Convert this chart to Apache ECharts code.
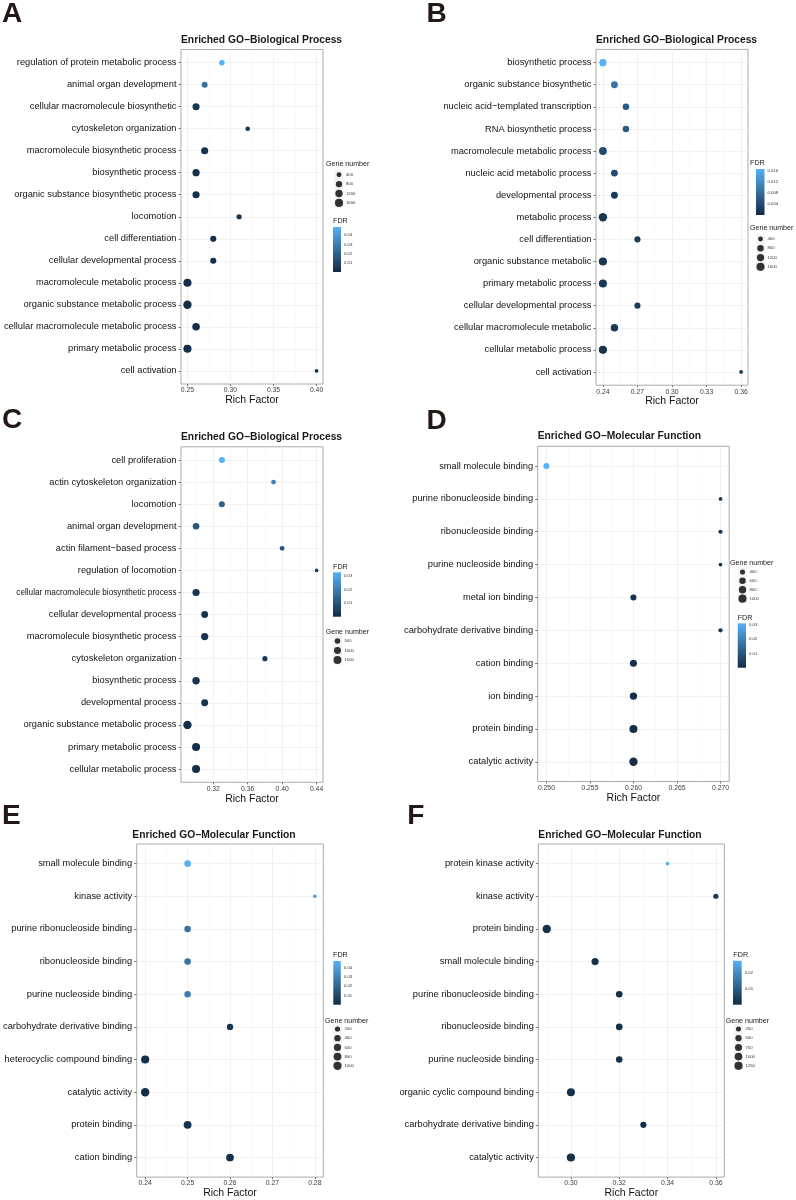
<!DOCTYPE html>
<html>
<head>
<meta charset="utf-8">
<script src="https://cdn.jsdelivr.net/npm/echarts@6/dist/echarts.min.js"></script>
<style>
html, body { margin: 0; padding: 0; background: #fff; }
#chart { width: 796px; height: 1200px; }
</style>
</head>
<body>
<div id="chart"></div>
<script>
// A - GO BP
const termsA = ['regulation of protein metabolic process', 'animal organ development', 'cellular macromolecule biosynthetic',
  'cytoskeleton organization', 'macromolecule biosynthetic process', 'biosynthetic process', 'organic substance biosynthetic process',
  'locomotion', 'cell differentiation', 'cellular developmental process', 'macromolecule metabolic process',
  'organic substance metabolic process', 'cellular macromolecule metabolic process', 'primary metabolic process', 'cell activation'];
const richA = [0.29, 0.27, 0.26, 0.32, 0.27, 0.26, 0.26, 0.31, 0.28, 0.28, 0.25, 0.25, 0.26, 0.25, 0.40];
const genesA = [500, 620, 1100, 350, 1100, 1150, 1130, 450, 710, 700, 1620, 1800, 1340, 1650, 300];
const fdrA = [0.049, 0.025, 0.004, 0.003, 0.003, 0.002, 0.002, 0.003, 0.002, 0.002, 0.001, 0.001, 0.001, 0.001, 0.001];
const xTicksA = [0.25, 0.30, 0.35, 0.40];
const sizeKeysA = [400, 800, 1200, 1600];
const fdrTicksA = [0.01, 0.02, 0.03, 0.04];

// B - GO BP
const termsB = ['biosynthetic process', 'organic substance biosynthetic', 'nucleic acid\u2212templated transcription',
  'RNA biosynthetic process', 'macromolecule metabolic process', 'nucleic acid metabolic process', 'developmental process',
  'metabolic process', 'cell differentiation', 'organic substance metabolic', 'primary metabolic process',
  'cellular developmental process', 'cellular macromolecule metabolic', 'cellular metabolic process', 'cell activation'];
const richB = [0.24, 0.25, 0.26, 0.26, 0.24, 0.25, 0.25, 0.24, 0.27, 0.24, 0.24, 0.27, 0.25, 0.24, 0.36];
const genesB = [1150, 1000, 850, 850, 1450, 1000, 1000, 1800, 700, 1650, 1600, 700, 1250, 1650, 300];
const fdrB = [0.0165, 0.009, 0.006, 0.006, 0.004, 0.004, 0.002, 0.0015, 0.002, 0.0015, 0.0015, 0.002, 0.002, 0.001, 0.001];
const xTicksB = [0.24, 0.27, 0.30, 0.33, 0.36];
const sizeKeysB = [400, 800, 1200, 1600];
const fdrTicksB = [0.004, 0.008, 0.012, 0.016];

// C - GO BP
const termsC = ['cell proliferation', 'actin cytoskeleton organization', 'locomotion', 'animal organ development',
  'actin filament\u2212based process', 'regulation of locomotion', 'cellular macromolecule biosynthetic process',
  'cellular developmental process', 'macromolecule biosynthetic process', 'cytoskeleton organization',
  'biosynthetic process', 'developmental process', 'organic substance metabolic process', 'primary metabolic process',
  'cellular metabolic process'];
const richC = [0.33, 0.39, 0.33, 0.30, 0.40, 0.44, 0.30, 0.31, 0.31, 0.38, 0.30, 0.31, 0.29, 0.30, 0.30];
const genesC = [650, 350, 600, 850, 330, 250, 1100, 950, 1150, 400, 1200, 1000, 1800, 1550, 1600];
const fdrC = [0.0325, 0.022, 0.013, 0.011, 0.010, 0.005, 0.002, 0.002, 0.002, 0.003, 0.002, 0.002, 0.001, 0.001, 0.001];
const xTicksC = [0.32, 0.36, 0.40, 0.44];
const sizeKeysC = [500, 1000, 1500];
const fdrTicksC = [0.01, 0.02, 0.03];

// D - GO MF
const termsD = ['small molecule binding', 'purine ribonucleoside binding', 'ribonucleoside binding', 'purine nucleoside binding',
  'metal ion binding', 'carbohydrate derivative binding', 'cation binding', 'ion binding', 'protein binding', 'catalytic activity'];
const richD = [0.25, 0.27, 0.27, 0.27, 0.26, 0.27, 0.26, 0.26, 0.26, 0.26];
const genesD = [520, 330, 340, 330, 520, 340, 720, 790, 1000, 1100];
const fdrD = [0.031, 0.002, 0.002, 0.002, 0.001, 0.002, 0.001, 0.001, 0.001, 0.001];
const xTicksD = [0.250, 0.255, 0.260, 0.265, 0.270];
const sizeKeysD = [400, 600, 800, 1000];
const fdrTicksD = [0.01, 0.02, 0.03];

// E - GO MF
const termsE = ['small molecule binding', 'kinase activity', 'purine ribonucleoside binding', 'ribonucleoside binding',
  'purine nucleoside binding', 'carbohydrate derivative binding', 'heterocyclic compound binding', 'catalytic activity',
  'protein binding', 'cation binding'];
const richE = [0.25, 0.28, 0.25, 0.25, 0.25, 0.26, 0.24, 0.24, 0.25, 0.26];
const genesE = [500, 100, 450, 450, 430, 400, 950, 1050, 850, 800];
const fdrE = [0.047, 0.042, 0.026, 0.025, 0.028, 0.004, 0.001, 0.001, 0.002, 0.002];
const xTicksE = [0.24, 0.25, 0.26, 0.27, 0.28];
const sizeKeysE = [200, 400, 600, 800, 1000];
const fdrTicksE = [0.01, 0.02, 0.03, 0.04];

// F - GO MF
const termsF = ['protein kinase activity', 'kinase activity', 'protein binding', 'small molecule binding',
  'purine ribonucleoside binding', 'ribonucleoside binding', 'purine nucleoside binding', 'organic cyclic compound binding',
  'carbohydrate derivative binding', 'catalytic activity'];
const richF = [0.34, 0.36, 0.29, 0.31, 0.32, 0.32, 0.32, 0.30, 0.33, 0.30];
const genesF = [150, 280, 1350, 800, 620, 620, 580, 1150, 500, 1250];
const fdrF = [0.028, 0.003, 0.001, 0.001, 0.001, 0.001, 0.001, 0.001, 0.001, 0.001];
const xTicksF = [0.30, 0.32, 0.34, 0.36];
const sizeKeysF = [250, 500, 750, 1000, 1250];
const fdrTicksF = [0.01, 0.02];

const smallLabels = ['cellular macromolecule biosynthetic process'];

const BP = 'Enriched GO\u2212Biological Process';
const MF = 'Enriched GO\u2212Molecular Function';
const LOW = '#132B43', HIGH = '#56B1F7';
const FONT = '"Liberation Sans", Arial, Helvetica, sans-serif';

// layout of each panel (pixel positions)
const panels = [
  { letter: 'A', title: BP, terms: termsA, rich: richA, genes: genesA, fdr: fdrA, xTicks: xTicksA, sizeKeys: sizeKeysA, fdrTicks: fdrTicksA,
    dec: 2, box: [181, 49.5, 142, 334.5], letterPos: [2, 0], titleTop: 35.5,
    gn: { tx: 326, ty: 161, gx: 334.5, gy: 170, step: 9.4 }, fl: { tx: 333, ty: 218, bx: 333, by: 227, bh: 45, bw: 8 } },
  { letter: 'B', title: BP, terms: termsB, rich: richB, genes: genesB, fdr: fdrB, xTicks: xTicksB, sizeKeys: sizeKeysB, fdrTicks: fdrTicksB,
    dec: 2, box: [596, 49.4, 152, 335.8], letterPos: [426.5, 0], titleTop: 35.5,
    gn: { tx: 750, ty: 224.5, gx: 756, gy: 234.3, step: 9.3 }, fl: { tx: 750, ty: 159.5, bx: 756, by: 169, bh: 46, bw: 8.5 } },
  { letter: 'C', title: BP, terms: termsC, rich: richC, genes: genesC, fdr: fdrC, xTicks: xTicksC, sizeKeys: sizeKeysC, fdrTicks: fdrTicksC,
    dec: 2, box: [181, 446.8, 142, 335.5], letterPos: [2, 406.5], titleTop: 432.3,
    gn: { tx: 325.7, ty: 629, gx: 333, gy: 636.3, step: 9.5 }, fl: { tx: 333, ty: 564, bx: 333, by: 572.3, bh: 44.4, bw: 8 } },
  { letter: 'D', title: MF, terms: termsD, rich: richD, genes: genesD, fdr: fdrD, xTicks: xTicksD, sizeKeys: sizeKeysD, fdrTicks: fdrTicksD,
    dec: 3, box: [537.7, 446.3, 191.5, 335.2], letterPos: [426.5, 407.7], titleTop: 431.3,
    gn: { tx: 730, ty: 559.5, gx: 738, gy: 567.5, step: 8.9 }, fl: { tx: 737.7, ty: 614.5, bx: 737.7, by: 623.3, bh: 44.4, bw: 8.3 } },
  { letter: 'E', title: MF, terms: termsE, rich: richE, genes: genesE, fdr: fdrE, xTicks: xTicksE, sizeKeys: sizeKeysE, fdrTicks: fdrTicksE,
    dec: 2, box: [132.3, 844, 191, 335], letterPos: [2, 802.7], titleTop: 829.7,
    gn: { tx: 325, ty: 1017.5, gx: 333, gy: 1024.4, step: 9.2 }, fl: { tx: 333, ty: 951.8, bx: 333.3, by: 961, bh: 43.7, bw: 7.5 } },
  { letter: 'F', title: MF, terms: termsF, rich: richF, genes: genesF, fdr: fdrF, xTicks: xTicksF, sizeKeys: sizeKeysF, fdrTicks: fdrTicksF,
    dec: 2, box: [538.3, 844, 186, 335], letterPos: [407.3, 802.7], titleTop: 829.7,
    gn: { tx: 725.7, ty: 1017.5, gx: 734, gy: 1024.4, step: 9.2 }, fl: { tx: 733.3, ty: 951.8, bx: 733, by: 960.7, bh: 44, bw: 8.7 } }
];

const option = { animation: false, backgroundColor: '#fff', title: [], grid: [], xAxis: [], yAxis: [], series: [], visualMap: [] };
const txt = (size, extra) => Object.assign({ fontFamily: FONT, fontSize: size, color: '#1a1a1a', fontWeight: 'normal' }, extra || {});

panels.forEach(function (p) {
  const n = p.terms.length;
  const lo = Math.min(...p.rich), hi = Math.max(...p.rich);
  const pad = (hi - lo) * 0.05;
  const gmin = Math.min(...p.genes), gmax = Math.max(...p.genes);
  const dot = g => 3.7 + 4.7 * Math.sqrt(Math.max(0, (g - gmin) / (gmax - gmin)));
  const fdrMax = Math.max(...p.fdr);
  const step = p.xTicks[1] - p.xTicks[0];
  const minor = [];
  for (let v = p.xTicks[0] - step / 2; v < hi + pad; v += step) {
    if (v > lo - pad) minor.push(+v.toFixed(6));
  }
  const rows = p.terms.map((t, k) => k + 1);

  // titles
  option.title.push({ text: p.letter, left: p.letterPos[0], top: p.letterPos[1], padding: 0,
    textStyle: txt(28, { fontWeight: 'bold', color: '#231815' }) });
  option.title.push({ text: p.title, left: p.box[0], top: p.titleTop, padding: 0, textStyle: txt(10.3, { fontWeight: 'bold' }) });
  option.title.push({ text: 'Gene number', left: p.gn.tx, top: p.gn.ty, padding: 0, textStyle: txt(7.1) });
  option.title.push({ text: 'FDR', left: p.fl.tx, top: p.fl.ty, padding: 0, textStyle: txt(7.2) });

  // main plot
  let gi = option.grid.length;
  option.grid.push({ left: p.box[0], top: p.box[1], width: p.box[2], height: p.box[3], show: true,
    borderColor: '#ababab', borderWidth: 1, backgroundColor: '#fff' });
  const xi = option.xAxis.length;
  option.xAxis.push({ gridIndex: gi, type: 'value', min: lo - pad, max: hi + pad, position: 'bottom',
    name: 'Rich Factor', nameLocation: 'middle', nameGap: 8.5, nameTextStyle: txt(10.5, { color: '#111' }),
    axisLine: { show: false },
    axisTick: { show: true, customValues: p.xTicks, length: 2, lineStyle: { color: '#555', width: 0.8 } },
    axisLabel: { customValues: p.xTicks, margin: 3, formatter: v => v.toFixed(p.dec), fontFamily: FONT, fontSize: 6.8, color: '#404040' },
    splitLine: { show: true, lineStyle: { color: '#efefef', width: 0.8 } } });
  option.xAxis.push({ gridIndex: gi, type: 'value', min: lo - pad, max: hi + pad, position: 'top',
    axisLine: { show: false }, axisTick: { show: false, customValues: minor }, axisLabel: { show: false, customValues: minor },
    splitLine: { show: true, lineStyle: { color: '#f7f7f7', width: 0.6 } } });
  const yi = option.yAxis.length;
  option.yAxis.push({ gridIndex: gi, type: 'value', inverse: true, min: 0.4, max: n + 0.6,
    axisLine: { show: false },
    axisTick: { show: true, customValues: rows, length: 2.5, lineStyle: { color: '#555', width: 0.8 } },
    axisLabel: { customValues: rows, margin: 4.5, fontFamily: FONT, fontSize: 9.3, color: '#111',
      formatter: v => { const t = p.terms[Math.round(v) - 1] || ''; return smallLabels.indexOf(t) >= 0 && p.letter === 'C' ? '{s|' + t + '}' : t; },
      rich: { s: { fontFamily: FONT, fontSize: 8.2, color: '#111' } } },
    splitLine: { show: true, lineStyle: { color: '#efefef', width: 0.8 } } });
  const si = option.series.length;
  option.series.push({ type: 'scatter', xAxisIndex: xi, yAxisIndex: yi,
    data: p.terms.map((t, k) => [p.rich[k], k + 1, p.genes[k], p.fdr[k], t]),
    symbolSize: v => dot(v[2]), itemStyle: { opacity: 1 } });
  option.visualMap.push({ type: 'continuous', show: false, seriesIndex: si, dimension: 3, min: 0, max: fdrMax,
    inRange: { color: [LOW, HIGH] } });

  // size legend
  const nk = p.sizeKeys.length;
  gi = option.grid.length;
  option.grid.push({ left: p.gn.gx, top: p.gn.gy, width: 9, height: p.gn.step * nk, show: true, borderWidth: 0, backgroundColor: '#f3f3f3' });
  const lxi = option.xAxis.length;
  option.xAxis.push({ gridIndex: gi, type: 'value', min: -1, max: 1, show: false });
  const lyi = option.yAxis.length;
  option.yAxis.push({ gridIndex: gi, type: 'category', inverse: true, position: 'right', data: p.sizeKeys.map(String),
    axisLine: { show: false }, axisTick: { show: false }, splitLine: { show: false },
    axisLabel: { margin: 2.5, fontFamily: FONT, fontSize: 4.2, color: '#333' } });
  option.series.push({ type: 'scatter', xAxisIndex: lxi, yAxisIndex: lyi,
    data: p.sizeKeys.map((v, k) => [0, k, v]), symbolSize: v => dot(v[2]), itemStyle: { color: '#000' } });

  // FDR colour bar
  gi = option.grid.length;
  option.grid.push({ left: p.fl.bx, top: p.fl.by, width: p.fl.bw, height: p.fl.bh, show: true, borderWidth: 0,
    backgroundColor: { type: 'linear', x: 0, y: 0, x2: 0, y2: 1, colorStops: [{ offset: 0, color: HIGH }, { offset: 1, color: LOW }] } });
  option.xAxis.push({ gridIndex: gi, type: 'value', min: 0, max: 1, show: false });
  option.yAxis.push({ gridIndex: gi, type: 'value', min: 0, max: fdrMax, position: 'right',
    axisLine: { show: false }, splitLine: { show: false },
    axisTick: { show: true, inside: true, customValues: p.fdrTicks, length: 1.8, lineStyle: { color: '#fff', width: 0.6 } },
    axisLabel: { customValues: p.fdrTicks, margin: 3, fontFamily: FONT, fontSize: 4.3, color: '#333',
      formatter: v => String(+v.toFixed(4)) } });
});

const chart = echarts.init(document.getElementById('chart'), null, { renderer: 'canvas' });
chart.setOption(option);
</script>
</body>
</html>
